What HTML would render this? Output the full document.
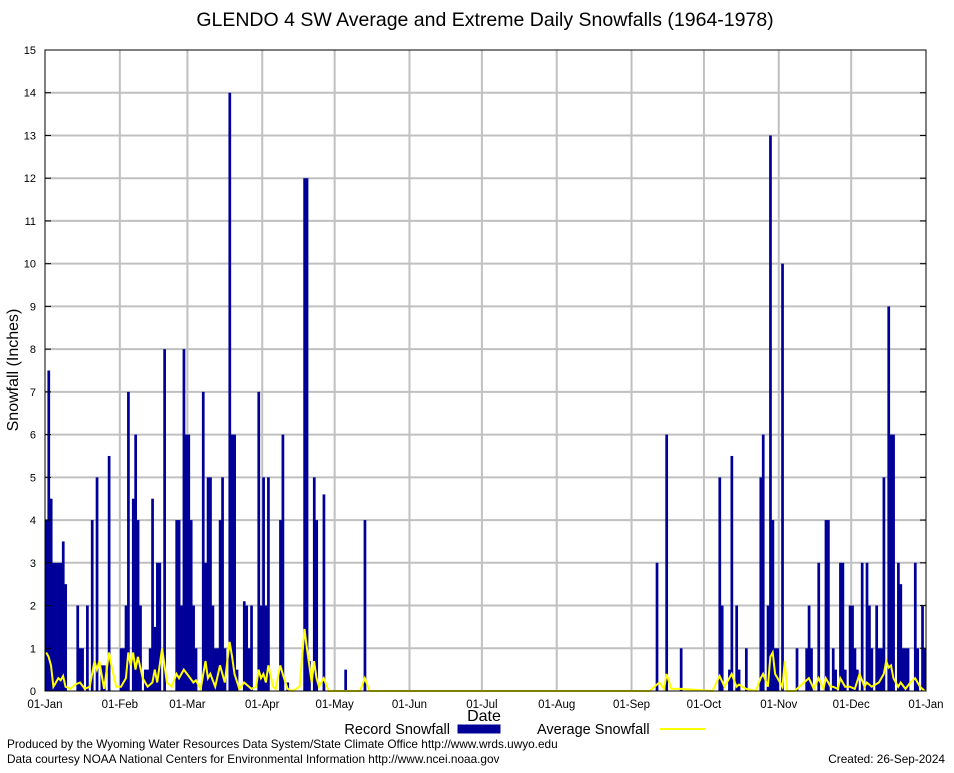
<!DOCTYPE html>
<html><head><meta charset="utf-8"><style>
body{margin:0;background:#fff;}
svg text{font-family:"Liberation Sans","DejaVu Sans",sans-serif;}
</style></head><body>
<svg id="chart" width="954" height="768" xmlns="http://www.w3.org/2000/svg">
<rect width="954" height="768" fill="#fff"/>
<text x="485" y="26" font-size="19.5" text-anchor="middle">GLENDO 4 SW Average and Extreme Daily Snowfalls (1964-1978)</text>
<text transform="translate(18,370) rotate(-90)" font-size="16" text-anchor="middle">Snowfall (Inches)</text>
<text x="484" y="721" font-size="16" text-anchor="middle">Date</text>
<g id="grid"></g>
<g id="bars"></g>
<polyline id="avgline" fill="none" stroke="#ffff00" stroke-width="2"/>
<rect x="45" y="50" width="881" height="641" fill="none" stroke="#000" stroke-width="1"/>
<g id="ticks"></g>
<g>
<text x="450" y="734" font-size="14.5" text-anchor="end">Record Snowfall</text>
<rect x="458" y="725" width="42" height="8" fill="#000099" stroke="#000099"/>
<text x="537" y="734" font-size="14.5">Average Snowfall</text>
<line x1="660" y1="729" x2="706" y2="729" stroke="#ffff00" stroke-width="2"/>
</g>
<text x="7" y="748" font-size="11.8">Produced by the Wyoming Water Resources Data System/State Climate Office http://www.wrds.uwyo.edu</text>
<text x="7" y="763" font-size="11.8">Data courtesy NOAA National Centers for Environmental Information http://www.ncei.noaa.gov</text>
<text x="945" y="763" font-size="11.8" text-anchor="end">Created:  26-Sep-2024</text>
</svg>
<script>
const monthLabels=["01-Jan","01-Feb","01-Mar","01-Apr","01-May","01-Jun","01-Jul","01-Aug","01-Sep","01-Oct","01-Nov","01-Dec","01-Jan"];
const monthDays=[0,31,59,90,120,151,181,212,243,273,304,334,365];
const yTicks=[0,1,2,3,4,5,6,7,8,9,10,11,12,13,14,15];
const recordDays=[0,1,2,3,4,5,6,7,8,13,14,15,17,19,21,23,24,26,31,32,33,34,36,37,38,39,41,42,43,44,45,46,47,49,54,55,56,57,58,59,60,61,62,65,66,67,68,69,70,71,72,73,74,76,77,78,79,82,83,84,85,88,89,90,91,92,97,98,100,107,108,109,111,112,115,124,132,253,257,263,279,280,283,284,286,287,290,296,297,299,300,301,302,303,305,311,315,316,317,320,323,324,326,327,329,330,331,333,334,335,336,338,340,341,342,344,345,346,347,349,350,351,353,354,355,356,357,360,361,363,364];
const recordVals=[4,7.5,4.5,3,3,3,3,3.5,2.5,2,1,1,2,4,5,0.6,0.6,5.5,1,1,2,7,4.5,6,4,2,0.5,0.5,1,4.5,1.5,3,3,8,4,4,2,8,6,6,4,2,1,7,3,5,5,2,1,1,4,5,1,14,6,6,0.5,2.1,2,1,2,7,2,5,2,5,4,6,0.2,12,12,0.7,5,4,4.6,0.5,4,3,6,1,5,2,0.5,5.5,2,0.5,1,5,6,2,13,4,1,1,10,1,1,2,1,3,4,4,1,0.5,3,3,0.5,2,2,1,0.5,3,3,2,1,2,1,1,5,9,6,6,3,2.5,1,1,1,3,1,2,1];
const avgDays=[0,1,2,3,4,5,6,7,8,10,12,14,16,18,20,21,22,24,26,27,29,31,33,34,35,36,37,38,40,42,44,45,46,48,50,52,54,55,57,59,61,62,64,66,67,68,70,72,74,76,77,78,80,82,84,85,87,88,89,90,91,92,94,95,97,98,100,102,105,107,108,109,110,111,112,113,115,117,130,132,134,250,254,256,257,259,263,276,279,281,284,286,287,290,294,296,297,299,300,301,302,303,305,306,307,310,316,318,320,322,323,325,326,328,329,331,333,335,337,339,340,342,345,347,348,349,350,351,353,354,356,358,360,362,364];
const avgVals=[0.9,0.8,0.6,0.1,0.2,0.3,0.25,0.35,0.1,0.05,0.15,0.2,0.05,0.1,0.7,0.5,0.7,0.05,0.9,0.6,0.1,0.1,0.3,0.9,0.6,0.9,0.5,0.8,0.3,0.1,0.2,0.5,0.2,1.0,0.2,0.1,0.4,0.3,0.5,0.35,0.2,0.25,0.05,0.7,0.3,0.4,0.1,0.6,0.2,1.15,0.8,0.4,0.05,0.2,0.1,0.05,0.1,0.5,0.3,0.4,0.2,0.6,0.1,0.05,0.6,0.4,0.05,0,0.1,1.45,1.0,0.6,0.2,0.7,0.3,0.1,0.3,0,0,0.3,0,0,0.2,0.05,0.4,0.05,0.05,0,0.35,0.1,0.4,0.1,0.15,0.05,0,0.3,0.4,0.1,0.8,0.9,0.4,0.3,0.1,0.7,0,0,0.3,0.05,0.3,0.05,0.3,0.1,0.1,0.05,0.3,0.1,0.1,0.05,0.4,0.1,0.2,0.1,0.2,0.4,0.7,0.55,0.6,0.3,0.1,0.2,0.05,0.2,0.3,0.1,0];
const X0=45,X1=926,Y0=691,Y1=50;
const dayW=(X1-X0)/365;
function xs(d){return X0+d*dayW;}
function ys(v){return Y0-(v/15)*(Y0-Y1);}
const NS="http://www.w3.org/2000/svg";
const grid=document.getElementById('grid'),ticks=document.getElementById('ticks'),bars=document.getElementById('bars');
function mk(t,a,p){const e=document.createElementNS(NS,t);for(const k in a)e.setAttribute(k,a[k]);p.appendChild(e);return e;}
yTicks.forEach(v=>{
 const y=ys(v);
 if(v>0&&v<15){const g=mk('line',{x1:X0,x2:X1,y1:y,y2:y,stroke:'#c0c0c0','stroke-width':2},grid);
 
 }
 const t=mk('line',{x1:X0,x2:X0+6,y1:y,y2:y,stroke:'#000'},ticks);
 
 
 const t2=mk('line',{x1:X1-6,x2:X1,y1:y,y2:y,stroke:'#000'},ticks);
 
 
 const l=mk('text',{x:36,y:y+4,'font-size':11,'text-anchor':'end'},ticks);l.textContent=v;
 
 
});
monthDays.forEach((d,i)=>{
 const x=xs(d);
 if(i>0&&i<12){const g=mk('line',{x1:x,x2:x,y1:Y0,y2:Y1,stroke:'#c0c0c0','stroke-width':2},grid);
 
 }
 const l=mk('text',{x:x,y:708,'font-size':11.5,'text-anchor':'middle'},ticks);l.textContent=monthLabels[i];
 
 
});
recordDays.forEach((d,i)=>{
 const y=ys(recordVals[i]);
 const r=mk('rect',{x:xs(d),y:y,width:dayW+0.3,height:Y0-y,fill:'#000099'},bars);
 
 
});
document.getElementById('avgline').setAttribute('points',avgDays.map((d,i)=>(xs(d)+dayW/2).toFixed(1)+','+ys(avgVals[i]).toFixed(1)).join(' '));
</script>
</body></html>
